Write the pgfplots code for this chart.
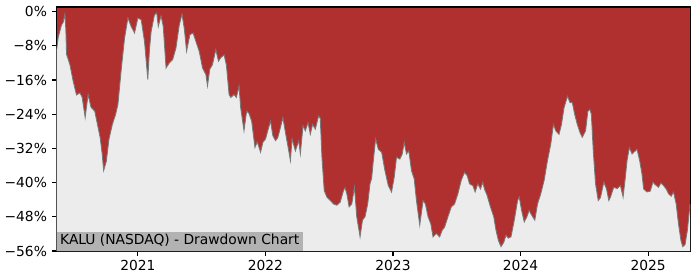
\documentclass[border=0pt]{standalone}
\usepackage{fontspec}
\setmainfont{DejaVu Sans}
\usepackage{pgfplots}
\usepackage{pgfplotstable}
\pgfplotsset{compat=1.18}
\usepgfplotslibrary{fillbetween}
\definecolor{ddred}{RGB}{176,48,48}
\definecolor{bggray}{RGB}{236,236,236}
\definecolor{labgray}{RGB}{178,178,178}
\definecolor{linegray}{RGB}{120,120,120}

\pgfplotstableread{
x y
2020.363 -9.0
2020.376 -6.0
2020.402 -3.1
2020.415 -2.5
2020.428 -0.6
2020.435 -4.0
2020.441 -10.0
2020.467 -12.4
2020.493 -16.3
2020.519 -19.5
2020.545 -19.0
2020.563 -20.0
2020.587 -24.8
2020.610 -19.4
2020.633 -22.4
2020.662 -23.3
2020.688 -27.1
2020.704 -29.4
2020.719 -33.0
2020.732 -37.2
2020.753 -35.0
2020.774 -29.8
2020.800 -26.4
2020.826 -24.0
2020.844 -21.7
2020.870 -13.5
2020.896 -6.2
2020.922 -1.5
2020.948 -3.5
2020.974 -5.0
2021.000 -1.5
2021.026 -1.9
2021.052 -7.0
2021.078 -15.9
2021.091 -9.0
2021.104 -4.7
2021.130 -0.8
2021.148 -0.3
2021.160 -3.5
2021.182 -1.0
2021.199 -3.5
2021.221 -13.2
2021.247 -12.0
2021.273 -11.2
2021.299 -8.5
2021.325 -3.1
2021.346 -0.6
2021.364 -4.0
2021.382 -9.3
2021.408 -5.4
2021.433 -5.0
2021.455 -7.0
2021.481 -9.3
2021.507 -13.2
2021.533 -14.7
2021.546 -17.4
2021.564 -13.5
2021.585 -12.4
2021.611 -8.9
2021.632 -11.6
2021.650 -10.8
2021.676 -10.1
2021.694 -12.5
2021.715 -19.4
2021.729 -20.1
2021.754 -19.4
2021.772 -20.1
2021.793 -17.4
2021.806 -22.5
2021.832 -27.9
2021.853 -23.3
2021.871 -23.8
2021.892 -25.6
2021.918 -31.8
2021.936 -30.5
2021.962 -32.9
2021.980 -30.6
2022.001 -29.8
2022.022 -27.5
2022.040 -25.6
2022.058 -29.0
2022.079 -30.2
2022.097 -29.5
2022.118 -27.1
2022.137 -24.8
2022.157 -28.3
2022.183 -32.6
2022.196 -34.9
2022.209 -29.8
2022.235 -32.6
2022.261 -30.2
2022.274 -33.3
2022.295 -26.7
2022.313 -27.9
2022.334 -26.0
2022.352 -28.7
2022.370 -26.4
2022.391 -27.5
2022.417 -24.4
2022.430 -25.0
2022.443 -34.1
2022.461 -41.9
2022.482 -43.4
2022.508 -44.2
2022.534 -45.0
2022.560 -45.3
2022.586 -44.6
2022.612 -41.9
2022.624 -41.2
2022.638 -42.6
2022.656 -45.7
2022.677 -45.0
2022.698 -41.1
2022.716 -48.0
2022.742 -52.7
2022.761 -48.8
2022.781 -48.0
2022.802 -45.0
2022.820 -40.3
2022.833 -39.0
2022.846 -34.9
2022.864 -29.8
2022.885 -32.2
2022.911 -32.9
2022.937 -37.2
2022.963 -40.7
2022.989 -42.2
2023.010 -38.7
2023.028 -34.1
2023.054 -34.5
2023.073 -33.3
2023.088 -30.6
2023.106 -33.3
2023.124 -32.6
2023.145 -37.2
2023.166 -39.1
2023.184 -44.2
2023.210 -50.0
2023.236 -44.2
2023.254 -45.0
2023.275 -48.0
2023.296 -49.6
2023.314 -52.7
2023.340 -51.9
2023.366 -52.7
2023.385 -51.2
2023.405 -50.4
2023.431 -48.0
2023.457 -45.7
2023.483 -45.0
2023.509 -42.6
2023.535 -39.5
2023.561 -37.6
2023.582 -38.4
2023.600 -40.3
2023.626 -40.7
2023.644 -42.2
2023.665 -40.3
2023.686 -41.5
2023.704 -39.9
2023.717 -41.5
2023.738 -43.0
2023.764 -45.7
2023.790 -48.0
2023.808 -51.2
2023.826 -53.5
2023.847 -55.0
2023.868 -54.0
2023.886 -52.3
2023.904 -53.0
2023.925 -52.7
2023.951 -48.8
2023.977 -44.2
2023.990 -43.4
2024.008 -46.5
2024.029 -49.2
2024.050 -48.0
2024.068 -46.5
2024.081 -47.3
2024.112 -48.8
2024.133 -45.0
2024.159 -42.6
2024.185 -39.5
2024.211 -34.9
2024.237 -31.0
2024.258 -26.4
2024.276 -27.9
2024.302 -28.7
2024.321 -26.4
2024.341 -22.5
2024.368 -19.8
2024.388 -21.3
2024.406 -21.3
2024.424 -24.0
2024.445 -26.4
2024.466 -28.3
2024.484 -29.4
2024.510 -27.9
2024.528 -23.3
2024.544 -22.9
2024.555 -24.0
2024.570 -32.6
2024.588 -40.3
2024.609 -44.2
2024.627 -43.5
2024.653 -39.9
2024.674 -41.5
2024.692 -44.2
2024.705 -43.4
2024.731 -41.1
2024.757 -41.4
2024.783 -40.7
2024.804 -43.4
2024.822 -38.7
2024.835 -34.9
2024.853 -31.8
2024.874 -33.3
2024.892 -32.8
2024.913 -32.2
2024.934 -34.9
2024.952 -38.0
2024.965 -41.5
2024.991 -42.2
2025.017 -42.0
2025.038 -39.9
2025.056 -40.5
2025.082 -41.1
2025.100 -40.1
2025.121 -40.7
2025.142 -41.5
2025.160 -42.6
2025.181 -43.2
2025.199 -42.2
2025.220 -45.0
2025.238 -49.6
2025.257 -53.5
2025.272 -55.0
2025.290 -54.5
2025.308 -51.2
2025.324 -46.5
2025.329 -45.0
}\dd

\begin{document}
\begin{tikzpicture}
\begin{axis}[
  name=ax,
  scale only axis,
  width=458.4pt, height=176.6pt,
  xmin=2020.363, xmax=2025.329,
  ymin=-56, ymax=1.09,
  axis background/.style={fill=ddred},
  axis line style={black, line width=0.8pt},
  tick align=outside,
  tick pos=left,
  major tick length=3.5pt,
  tick style={black, line width=0.8pt},
  xtick={2021,2022,2023,2024,2025},
  xticklabels={2021,2022,2023,2024,2025},
  ytick={-56,-48,-40,-32,-24,-16,-8,0},
  yticklabels={−56\%,−48\%,−40\%,−32\%,−24\%,−16\%,−8\%,0\%},
  ticklabel style={font=\fontsize{10}{12}\selectfont},
]
\addplot[name path=dd, draw=none] table {\dd};
\path[name path=bot] (axis cs:2020.363,-56) -- (axis cs:2025.329,-56);
\addplot[fill=bggray, draw=none] fill between[of=dd and bot];
\addplot[draw=linegray, line width=0.6pt] table {\dd};
\node[anchor=south west, fill=labgray, inner xsep=2.4pt, inner ysep=2pt,
      text height=7.5pt, text depth=2.2pt, font=\fontsize{10}{12}\selectfont]
  at (rel axis cs:0,0) {KALU (NASDAQ) - Drawdown Chart};
\end{axis}
\path (ax.south west) +(-38.4pt,-19.9pt);
\path (ax.north east) +(7.2pt,5.04pt);
\end{tikzpicture}
\end{document}
